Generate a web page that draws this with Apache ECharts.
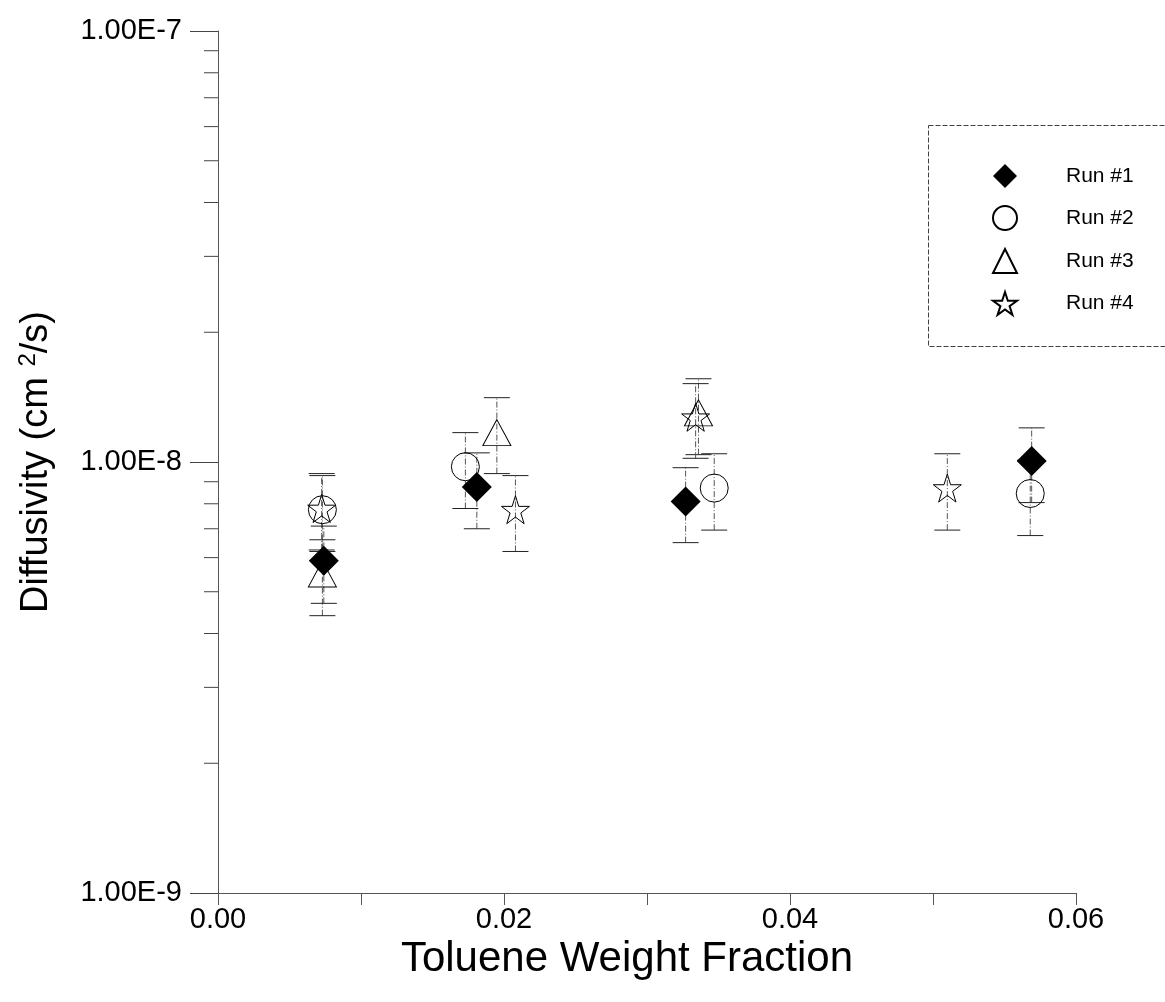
<!DOCTYPE html>
<html>
<head>
<meta charset="utf-8">
<script src="https://cdn.jsdelivr.net/npm/echarts@6/dist/echarts.min.js"></script>
<style>
html,body{margin:0;padding:0;background:#fff;}
#c{width:1165px;height:1002px;}
</style>
</head>
<body>
<div id="c"></div>
<script>
// ---- data ----
const run1X = [0.0074, 0.0181, 0.0327, 0.0569];
const run1Y = [5.9e-9, 8.75e-9, 8.1e-9, 1.005e-8];
const run1Lo = [4.7e-9, 7.0e-9, 6.5e-9, 8.05e-9];
const run1Hi = [7.1e-9, 1.05e-8, 9.7e-9, 1.2e-8];

const run2X = [0.0073, 0.0173, 0.0347, 0.0568];
const run2Y = [7.75e-9, 9.75e-9, 8.7e-9, 8.45e-9];
const run2Lo = [6.2e-9, 7.8e-9, 6.95e-9, 6.75e-9];
const run2Hi = [9.3e-9, 1.17e-8, 1.045e-8, 1.01e-8];

const run3X = [0.0073, 0.0195, 0.0336];
const run3Y = [5.5e-9, 1.17e-8, 1.30e-8];
const run3Lo = [4.4e-9, 9.4e-9, 1.04e-8];
const run3Hi = [6.6e-9, 1.41e-8, 1.56e-8];

const run4X = [0.00725, 0.0208, 0.0334, 0.0510];
const run4Y = [7.8e-9, 7.75e-9, 1.27e-8, 8.7e-9];
const run4Lo = [6.25e-9, 6.2e-9, 1.02e-8, 6.95e-9];
const run4Hi = [9.4e-9, 9.3e-9, 1.52e-8, 1.045e-8];

const runNames = ['Run #1', 'Run #2', 'Run #3', 'Run #4'];
const yMinorTicks = [2e-9,3e-9,4e-9,5e-9,6e-9,7e-9,8e-9,9e-9,2e-8,3e-8,4e-8,5e-8,6e-8,7e-8,8e-8,9e-8];
const xTickLabels = ['0.00', '', '0.02', '', '0.04', '', '0.06'];
const yTitle = 'Diffusivity (cm ';
const xTitle = 'Toluene Weight Fraction';

// ---- build ----
const FONT = 'Liberation Sans, Arial, sans-serif';
const starPath = 'path://M50,2 L61.2,36.5 L97.6,36.5 L68.2,57.9 L79.4,92.5 L50,71.1 L20.6,92.5 L31.8,57.9 L2.4,36.5 L38.8,36.5 Z';

function pts(xs, ys){ return xs.map((x,i)=>[x, ys[i]]); }
function errs(xs, lo, hi){ return xs.map((x,i)=>[x, lo[i], hi[i]]); }

function errSeries(name, data){
  return {
    type: 'custom', name: name, data: data, z: 1, clip: false,
    encode: {x: 0, y: [1, 2]},
    silent: true,
    renderItem: function(params, api){
      const x = api.value(0);
      const lo = api.coord([x, api.value(1)]);
      const hi = api.coord([x, api.value(2)]);
      const w = 13;
      return {type: 'group', children: [
        {type:'line', shape:{x1:lo[0], y1:lo[1], x2:hi[0], y2:hi[1]}, style:{stroke:'#555', lineWidth:1, lineDash:[6,2,1,2]}},
        {type:'line', shape:{x1:hi[0]-w, y1:hi[1], x2:hi[0]+w, y2:hi[1]}, style:{stroke:'#222', lineWidth:1}},
        {type:'line', shape:{x1:lo[0]-w, y1:lo[1], x2:lo[0]+w, y2:lo[1]}, style:{stroke:'#222', lineWidth:1}}
      ]};
    }
  };
}

const openStyle = {color: 'rgba(0,0,0,0)', borderColor: '#000', borderWidth: 1, opacity: 1};

const chart = echarts.init(document.getElementById('c'), null, {renderer: 'canvas'});
chart.setOption({
  backgroundColor: '#fff',
  animation: false,
  textStyle: {fontFamily: FONT},
  grid: {left: 218, right: 89, top: 31, bottom: 109},
  xAxis: {
    type: 'value', min: 0, max: 0.06, interval: 0.01,
    name: xTitle, nameLocation: 'middle', nameGap: 31,
    nameTextStyle: {fontSize: 42, color: '#000', fontFamily: FONT, padding: [0, 40, 0, 0]},
    axisLine: {show: true, lineStyle: {color: '#555', width: 1}},
    axisTick: {show: true, length: 12, lineStyle: {color: '#555'}},
    axisLabel: {
      margin: 12, fontSize: 29, color: '#000', fontFamily: FONT,
      formatter: function(v){ return xTickLabels[Math.round(v/0.01)] || ''; }
    },
    splitLine: {show: false}
  },
  yAxis: {
    type: 'log', logBase: 10, min: 1e-9, max: 1e-7,
    name: '{a|' + yTitle + '}{s|2}{a|/s)}', nameLocation: 'middle', nameGap: 160, nameRotate: 90,
    nameTextStyle: {
      color: '#000', fontFamily: FONT, fontSize: 38,
      rich: {a: {fontSize: 38, fontFamily: FONT, color: '#000'}, s: {fontSize: 24, fontFamily: FONT, color: '#000', verticalAlign: 'top', padding: [0,0,18,0]}}
    },
    axisLine: {show: true, lineStyle: {color: '#555', width: 1}},
    axisTick: {show: true, length: 28, lineStyle: {color: '#444'}},
    axisLabel: {
      margin: 36, fontSize: 29, color: '#000', fontFamily: FONT,
      formatter: function(v){ return v.toExponential(2).toUpperCase(); }
    },
    splitLine: {show: false}
  },
  legend: {
    data: runNames, orient: 'vertical', left: 987, top: 159,
    itemWidth: 24, itemHeight: 24, itemGap: 17,
    textStyle: {fontSize: 21, color: '#000', fontFamily: FONT, padding: [0,0,0,44]},
    selectedMode: false
  },
  graphic: [{
    type: 'rect', left: 926, top: 123, silent: true,
    shape: {width: 260, height: 221},
    style: {fill: 'none', stroke: '#444', lineWidth: 1, lineDash: [5,2]}
  }],
  series: [
    {
      type: 'custom', name: 'minor', data: yMinorTicks.map(v=>[0, v]), clip: false, silent: true,
      encode: {x: 0, y: 1},
      renderItem: function(params, api){
        const p = api.coord([0, api.value(1)]);
        return {type:'line', shape:{x1:p[0]-14, y1:p[1], x2:p[0], y2:p[1]}, style:{stroke:'#444', lineWidth:1}};
      }
    },
    errSeries('e2', errs(run2X, run2Lo, run2Hi)),
    errSeries('e3', errs(run3X, run3Lo, run3Hi)),
    errSeries('e4', errs(run4X, run4Lo, run4Hi)),
    errSeries('e1', errs(run1X, run1Lo, run1Hi)),
    {type:'scatter', name:'Run #2', data: pts(run2X, run2Y), symbol:'circle', symbolSize: 28, itemStyle: openStyle, z: 3},
    {type:'scatter', name:'Run #3', data: pts(run3X, run3Y), symbol:'triangle', symbolSize: [28,26], itemStyle: openStyle, z: 3},
    {type:'scatter', name:'Run #4', data: pts(run4X, run4Y), symbol: starPath, symbolSize: 28, itemStyle: openStyle, z: 3},
    {type:'scatter', name:'Run #1', data: pts(run1X, run1Y), symbol:'diamond', symbolSize: 30, itemStyle: {color:'#000', opacity: 1}, z: 4}
  ]
});
</script>
</body>
</html>
